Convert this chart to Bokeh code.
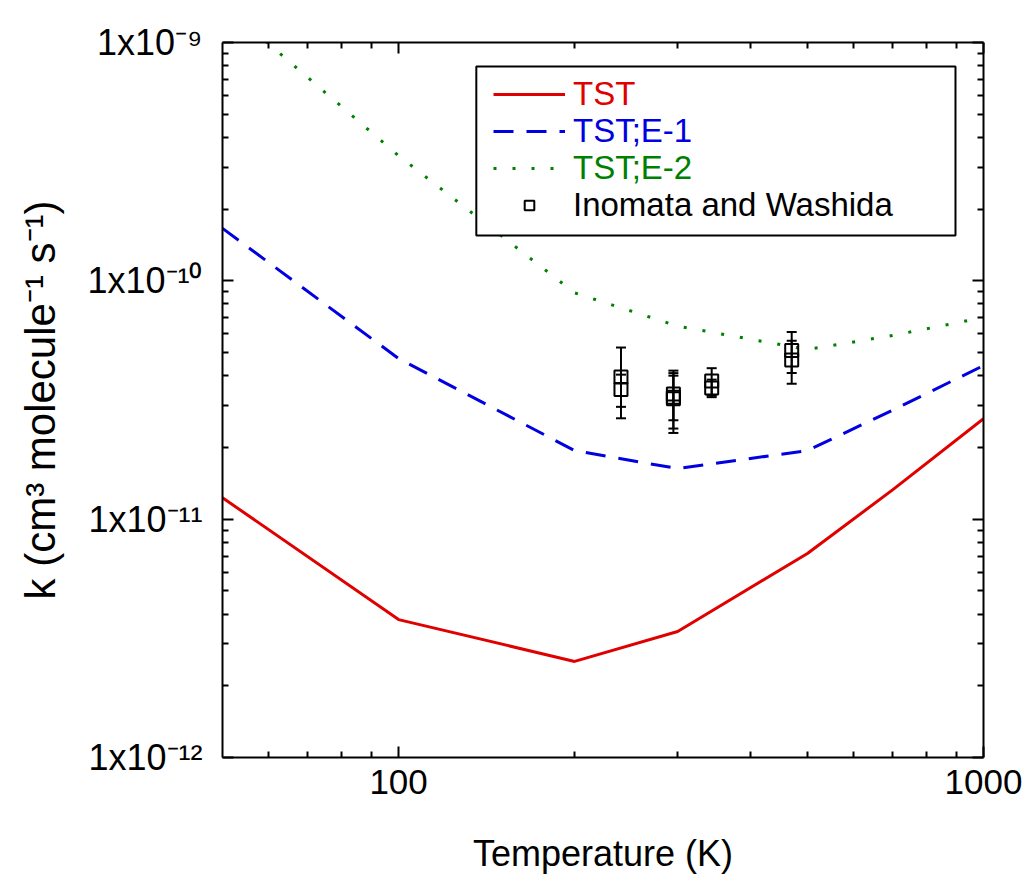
from bokeh.plotting import figure
from bokeh.models import (LogAxis, FixedTicker, CustomJSTickFormatter, Legend, LegendItem,
                          Whisker, ColumnDataSource, BoxAnnotation, TeeHead, Range1d)
from bokeh.embed import file_html
from bokeh.resources import INLINE

# ---------------- data ----------------
temps = [50, 100, 200, 300, 500, 700, 1000]
k_tst = [1.23e-11, 3.79e-12, 2.53e-12, 3.38e-12, 7.18e-12, 1.33e-11, 2.64e-11]
k_e1 = [1.66e-10, 4.72e-11, 1.94e-11, 1.63e-11, 1.94e-11, 2.87e-11, 4.41e-11]
k_e2 = [1.45e-9, 3.35e-10, 8.9e-11, 6.46e-11, 5.15e-11, 5.9e-11, 7.02e-11]

exp_T = [240, 240, 295, 295, 295, 343, 343, 470, 470]
exp_k = [3.95e-11, 3.5e-11, 3.35e-11, 3.2e-11, 3.25e-11, 3.8e-11, 3.55e-11, 5.1e-11, 4.65e-11]
exp_err = [1.3e-11, 0.54e-11, 0.75e-11, 0.8e-11, 0.95e-11, 0.5e-11, 0.3e-11, 1.0e-11, 0.95e-11]

x_ticks = [100, 1000]
x_tick_labels = ["100", "1000"]
x_minor = [60, 70, 80, 90, 200, 300, 400, 500, 600, 700, 800, 900]
y_ticks = [1e-12, 1e-11, 1e-10, 1e-9]
y_tick_labels = ["1x10\u207b\u00b9\u00b2", "1x10\u207b\u00b9\u00b9", "1x10\u207b\u00b9\u2070", "1x10\u207b\u2079"]
y_minor = [m * d for d in [1e-12, 1e-11, 1e-10] for m in range(2, 10)]

series_names = ["TST", "TST;E-1", "TST;E-2", "Inomata and Washida"]
series_colors = ["#e00000", "#0000e0", "#008000", "black"]

# ---------------- figure ----------------
W, H = 1029, 885
p = figure(width=W, height=H, x_axis_type="log", y_axis_type="log",
           x_range=Range1d(50, 1000), y_range=Range1d(1e-12, 1e-9),
           output_backend="svg", toolbar_location=None,
           min_border_left=222, min_border_right=46, min_border_top=42, min_border_bottom=128)
p.xgrid.visible = False
p.ygrid.visible = False
p.outline_line_color = None
p.background_fill_color = "white"
p.border_fill_color = "white"

fmt_js = """
const i = tv.findIndex(t => Math.abs(Math.log10(t) - Math.log10(tick)) < 1e-6);
return i >= 0 ? tl[i] : '';
"""
xfmt = CustomJSTickFormatter(args=dict(tv=x_ticks, tl=x_tick_labels), code=fmt_js)
yfmt = CustomJSTickFormatter(args=dict(tv=y_ticks, tl=y_tick_labels), code=fmt_js)
blank = CustomJSTickFormatter(code="return '';")

xt = FixedTicker(ticks=x_ticks, minor_ticks=x_minor)
yt = FixedTicker(ticks=y_ticks, minor_ticks=y_minor)


def style_axis(ax):
    ax.axis_line_width = 2
    ax.axis_line_color = "black"
    ax.major_tick_in = 11
    ax.major_tick_out = 0
    ax.minor_tick_in = 6
    ax.minor_tick_out = 0
    ax.major_tick_line_width = 2
    ax.minor_tick_line_width = 2
    ax.major_tick_line_color = "black"
    ax.minor_tick_line_color = "black"


xa = p.xaxis[0]
xa.ticker = xt
xa.formatter = xfmt
style_axis(xa)
xa.major_label_text_font = "Liberation Sans"
xa.major_label_text_font_size = "35px"
xa.major_label_text_color = "black"
xa.major_label_standoff = 12
xa.axis_label = "Temperature (K)"
xa.axis_label_text_font = "Liberation Sans"
xa.axis_label_text_font_size = "36px"
xa.axis_label_text_font_style = "normal"
xa.axis_label_text_color = "black"
xa.axis_label_standoff = 36

ya = p.yaxis[0]
ya.ticker = yt
ya.formatter = yfmt
style_axis(ya)
ya.major_label_text_font = "Liberation Sans"
ya.major_label_text_font_size = "36px"
ya.major_label_text_color = "black"
ya.major_label_standoff = 20
ya.axis_label = "k (cm\u00b3 molecule\u207b\u00b9 s\u207b\u00b9)"
ya.axis_label_text_font = "Liberation Sans"
ya.axis_label_text_font_size = "42px"
ya.axis_label_text_font_style = "normal"
ya.axis_label_text_color = "black"
ya.axis_label_standoff = 20

top_ax = LogAxis(ticker=xt, formatter=blank)
style_axis(top_ax)
top_ax.major_label_text_font_size = "0px"
right_ax = LogAxis(ticker=yt, formatter=blank)
style_axis(right_ax)
right_ax.major_label_text_font_size = "0px"
p.add_layout(top_ax, "above")
p.add_layout(right_ax, "right")

# ---------------- curves ----------------
r_tst = p.line(temps, k_tst, line_color=series_colors[0], line_width=3)
r_e1 = p.line(temps, k_e1, line_color=series_colors[1], line_width=3, line_dash="20 13")
r_e2 = p.line(temps, k_e2, line_color=series_colors[2], line_width=3, line_dash="3 16")

# ---------------- experimental points ----------------
src = ColumnDataSource(dict(
    T=exp_T, k=exp_k,
    upper=[k + e for k, e in zip(exp_k, exp_err)],
    lower=[k - e for k, e in zip(exp_k, exp_err)],
))
wh = Whisker(base="T", upper="upper", lower="lower", source=src, dimension="height",
             line_width=2, line_color="black",
             upper_head=TeeHead(size=10, line_width=2, line_color="black"),
             lower_head=TeeHead(size=10, line_width=2, line_color="black"))
p.add_layout(wh)
r_exp = p.scatter("T", "k", source=src, marker="square", size=13, fill_color=None,
                  line_color="black", line_width=2)

# ---------------- legend ----------------
box = BoxAnnotation(left=135.8, right=895.6, bottom=1.549e-10, top=7.93e-10,
                    fill_color="white", fill_alpha=1.0, line_color="black",
                    line_alpha=1.0, line_width=2)
p.add_layout(box)

renderers = [r_tst, r_e1, r_e2, r_exp]
leg_y = [644, 607, 570, 533]
for name, col, r, ly in zip(series_names, series_colors, renderers, leg_y):
    lg = Legend(items=[LegendItem(label=name, renderers=[r])], location=(271, ly),
                border_line_color=None, background_fill_alpha=0.0,
                label_text_font="Liberation Sans", label_text_font_size="33px",
                label_text_color=col, glyph_width=72, glyph_height=24,
                label_standoff=8, padding=0, margin=0, spacing=0)
    p.add_layout(lg)

open("out.html", "w").write(file_html(p, INLINE))
